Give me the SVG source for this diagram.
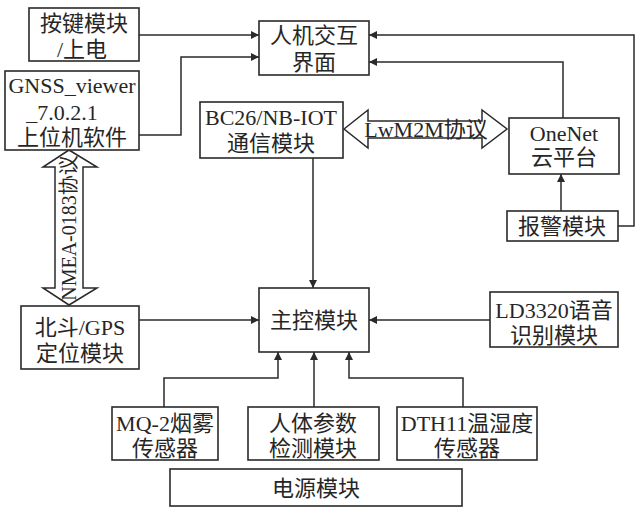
<svg xmlns="http://www.w3.org/2000/svg" width="636" height="507" viewBox="0 0 636 507">
<defs>
<style>
.b{fill:#fff;stroke:#2a2a2a;stroke-width:1.6}
.t{font-family:"Liberation Serif","Noto Sans CJK SC",serif;font-size:22px;fill:#262626;text-anchor:middle}
.c{fill:none;stroke:#2a2a2a;stroke-width:1.5}
.d{fill:#fff;stroke:#2a2a2a;stroke-width:1.5;stroke-linejoin:miter}
</style>
<marker id="ah" viewBox="0 0 10 10" refX="10" refY="5" markerWidth="8" markerHeight="8" markerUnits="userSpaceOnUse" orient="auto">
<path d="M0,0 L10,5 L0,10 z" fill="#2a2a2a"/>
</marker>
</defs>
<rect width="636" height="507" fill="#fff"/>
<g id="connectors">
<polyline class="c" points="139,35 259,35" marker-end="url(#ah)"/>
<polyline class="c" points="139,135 181,135 181,57 259,57" marker-end="url(#ah)"/>
<polyline class="c" points="618,226 634,226 634,35 369,35" marker-end="url(#ah)"/>
<polyline class="c" points="563,118 563,62 369,62" marker-end="url(#ah)"/>
<polyline class="c" points="561,211 561,174" marker-end="url(#ah)"/>
<polyline class="c" points="313,158 313,288" marker-end="url(#ah)"/>
<polyline class="c" points="139,320 259,320" marker-end="url(#ah)"/>
<polyline class="c" points="490,320 369,320" marker-end="url(#ah)"/>
<polyline class="c" points="164,407 164,378 278,378 278,352" marker-end="url(#ah)"/>
<polyline class="c" points="314,407 314,352" marker-end="url(#ah)"/>
<polyline class="c" points="463,407 463,378 349,378 349,352" marker-end="url(#ah)"/>
<g id="lwm2m">
<polygon class="d" points="344,129 368,110 368,121 482,121 482,110 507,129 482,148 482,138 368,138 368,148"/>
<text class="t" x="426" y="137">LwM2M协议</text>
</g>
<g id="nmea">
<polygon class="d" points="69,150 97,167 83,167 83,288 97,288 69,305 43,288 55,288 55,167 43,167"/>
<text class="t" style="font-size:20px" transform="translate(76,228) rotate(-90)">NMEA-0183协议</text>
</g>
</g>
<g id="n-key"><rect class="b" x="29" y="8" width="110" height="53"/><text class="t" x="84" y="31">按键模块</text><text class="t" x="82" y="57">/上电</text></g>
<g id="n-hmi"><rect class="b" x="259" y="21" width="110" height="54"/><text class="t" x="314" y="43">人机交互</text><text class="t" x="314" y="70">界面</text></g>
<g id="n-gnss"><rect class="b" x="5" y="71" width="134" height="79"/><text class="t" x="72" y="93">GNSS_viewer</text><text class="t" x="62" y="120">_7.0.2.1</text><text class="t" x="72" y="145">上位机软件</text></g>
<g id="n-bc26"><rect class="b" x="200" y="102" width="143" height="56"/><text class="t" x="271" y="125">BC26/NB-IOT</text><text class="t" x="271" y="151">通信模块</text></g>
<g id="n-onenet"><rect class="b" x="509" y="118" width="110" height="56"/><text class="t" x="564" y="141">OneNet</text><text class="t" x="564" y="165">云平台</text></g>
<g id="n-alarm"><rect class="b" x="507" y="211" width="111" height="30"/><text class="t" x="562" y="234">报警模块</text></g>
<g id="n-main"><rect class="b" x="259" y="288" width="110" height="64"/><text class="t" x="314" y="328">主控模块</text></g>
<g id="n-gps"><rect class="b" x="21" y="306" width="118" height="63"/><text class="t" x="80" y="335">北斗/GPS</text><text class="t" x="80" y="361">定位模块</text></g>
<g id="n-ld3320"><rect class="b" x="490" y="292" width="128" height="55"/><text class="t" x="554" y="318">LD3320语音</text><text class="t" x="554" y="343">识别模块</text></g>
<g id="n-mq2"><rect class="b" x="112" y="407" width="106" height="53"/><text class="t" x="165" y="431">MQ-2烟雾</text><text class="t" x="165" y="456">传感器</text></g>
<g id="n-body"><rect class="b" x="248" y="407" width="131" height="53"/><text class="t" x="313" y="431">人体参数</text><text class="t" x="313" y="456">检测模块</text></g>
<g id="n-dth11"><rect class="b" x="397" y="407" width="140" height="53"/><text class="t" x="467" y="431">DTH11温湿度</text><text class="t" x="467" y="456">传感器</text></g>
<g id="n-power"><rect class="b" x="170" y="469" width="292" height="37"/><text class="t" x="316" y="496">电源模块</text></g>
</svg>
